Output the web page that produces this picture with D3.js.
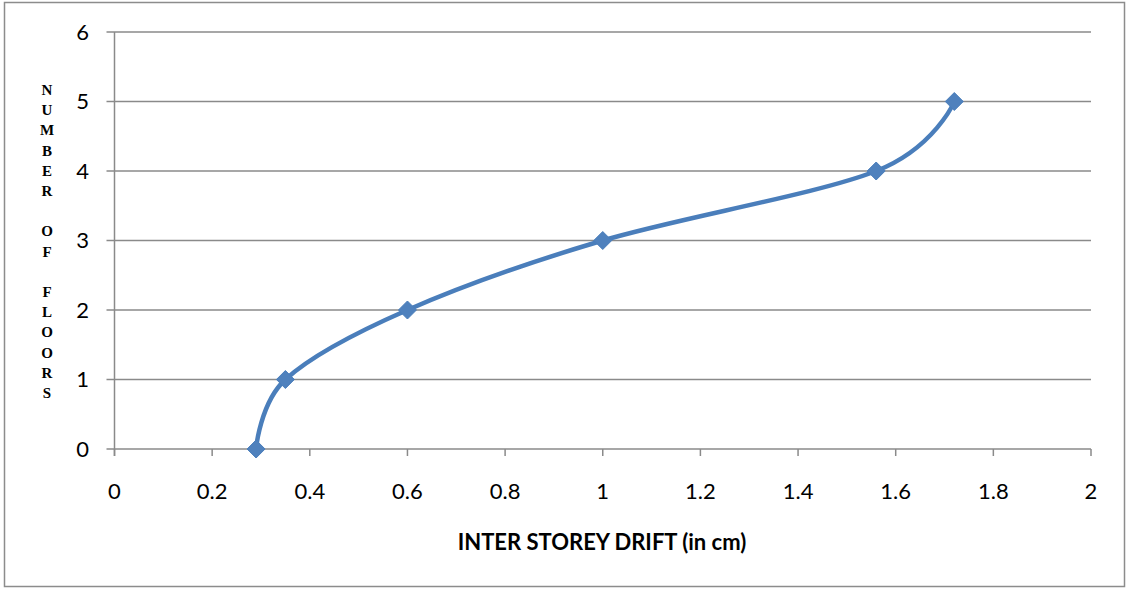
<!DOCTYPE html>
<html>
<head>
<meta charset="utf-8">
<script src="https://cdn.jsdelivr.net/npm/d3@7"></script>
<style>
  body { margin: 0; background: #fff; }
  .tick-label { font-family: Lato, "Open Sans", sans-serif; font-size: 22px; fill: #000; }
  .axis-title { font-family: Lato, "Open Sans", sans-serif; font-size: 22px; font-weight: bold; fill: #000; }
  .y-letter { font-family: "Liberation Serif", "DejaVu Serif", serif; font-size: 15px; font-weight: bold; fill: #000; }
</style>
</head>
<body>
<div id="chart"></div>
<script>
// Inter storey drift vs number of floors

// Data
const drift = [0.29, 0.35, 0.6, 1.0, 1.56, 1.72];
const floors = [0, 1, 2, 3, 4, 5];

// Tick labels
const xTicks = [0, 0.2, 0.4, 0.6, 0.8, 1, 1.2, 1.4, 1.6, 1.8, 2];
const yTicks = [0, 1, 2, 3, 4, 5, 6];

const xTitle = "INTER STOREY DRIFT (in cm)";
const yTitle = "NUMBER OF FLOORS";

// SVG dimensions
const width = 1126;
const height = 589;

const svg = d3.select("#chart")
  .append("svg")
  .attr("width", width)
  .attr("height", height);

// Outer chart border
svg.append("rect")
  .attr("x", 4.5)
  .attr("y", 2.5)
  .attr("width", 1120)
  .attr("height", 584)
  .attr("fill", "none")
  .attr("stroke", "#8c8c8c")
  .attr("stroke-width", 1.5);

// Scales
const x = d3.scaleLinear().domain([0, 2]).range([114.5, 1091]);
const y = d3.scaleLinear().domain([0, 6]).range([449, 32]);

const gridColor = "#8a8a8a";

// Horizontal grid lines (with tick stub on left)
svg.append("g")
  .selectAll("line")
  .data(yTicks)
  .join("line")
  .attr("x1", x(0) - 8)
  .attr("x2", x(2))
  .attr("y1", d => y(d))
  .attr("y2", d => y(d))
  .attr("stroke", gridColor)
  .attr("stroke-width", 1.5);

// Y axis line
svg.append("line")
  .attr("x1", x(0)).attr("x2", x(0))
  .attr("y1", y(6)).attr("y2", y(0) + 7)
  .attr("stroke", gridColor)
  .attr("stroke-width", 1.5);

// X axis ticks
svg.append("g")
  .selectAll("line")
  .data(xTicks)
  .join("line")
  .attr("x1", d => x(d))
  .attr("x2", d => x(d))
  .attr("y1", y(0))
  .attr("y2", y(0) + 7)
  .attr("stroke", gridColor)
  .attr("stroke-width", 1.5);

// Y tick labels
svg.append("g")
  .selectAll("text")
  .data(yTicks)
  .join("text")
  .attr("class", "tick-label")
  .attr("x", 89)
  .attr("y", d => y(d))
  .attr("dy", "0.36em")
  .attr("text-anchor", "end")
  .text(d => d);

// X tick labels
svg.append("g")
  .selectAll("text")
  .data(xTicks)
  .join("text")
  .attr("class", "tick-label")
  .attr("x", d => x(d))
  .attr("y", 499)
  .attr("text-anchor", "middle")
  .text(d => d);

// Smoothed line
const pts = drift.map((d, i) => ({ drift: d, floor: floors[i] }));

const line = d3.line()
  .x(d => x(d.drift))
  .y(d => y(d.floor))
  .curve(d3.curveCatmullRom.alpha(0));

svg.append("path")
  .datum(pts)
  .attr("d", line)
  .attr("fill", "none")
  .attr("stroke", "#4a7ebb")
  .attr("stroke-width", 4.5)
  .attr("stroke-linejoin", "round");

// Diamond markers
svg.append("g")
  .selectAll("path")
  .data(pts)
  .join("path")
  .attr("transform", d => `translate(${x(d.drift)},${y(d.floor)})`)
  .attr("d", "M0,-9L9,0L0,9L-9,0Z")
  .attr("fill", "#4f81bd")
  .attr("stroke", "#4a7ebb")
  .attr("stroke-width", 1);

// X axis title
svg.append("text")
  .attr("class", "axis-title")
  .attr("x", 602)
  .attr("y", 550)
  .attr("text-anchor", "middle")
  .text(xTitle);

// Y axis title, stacked letters
svg.append("g")
  .selectAll("text")
  .data(yTitle.split(""))
  .join("text")
  .attr("class", "y-letter")
  .attr("x", 47)
  .attr("y", (d, i) => 95 + i * 20.2)
  .attr("text-anchor", "middle")
  .text(d => d);
</script>
</body>
</html>
